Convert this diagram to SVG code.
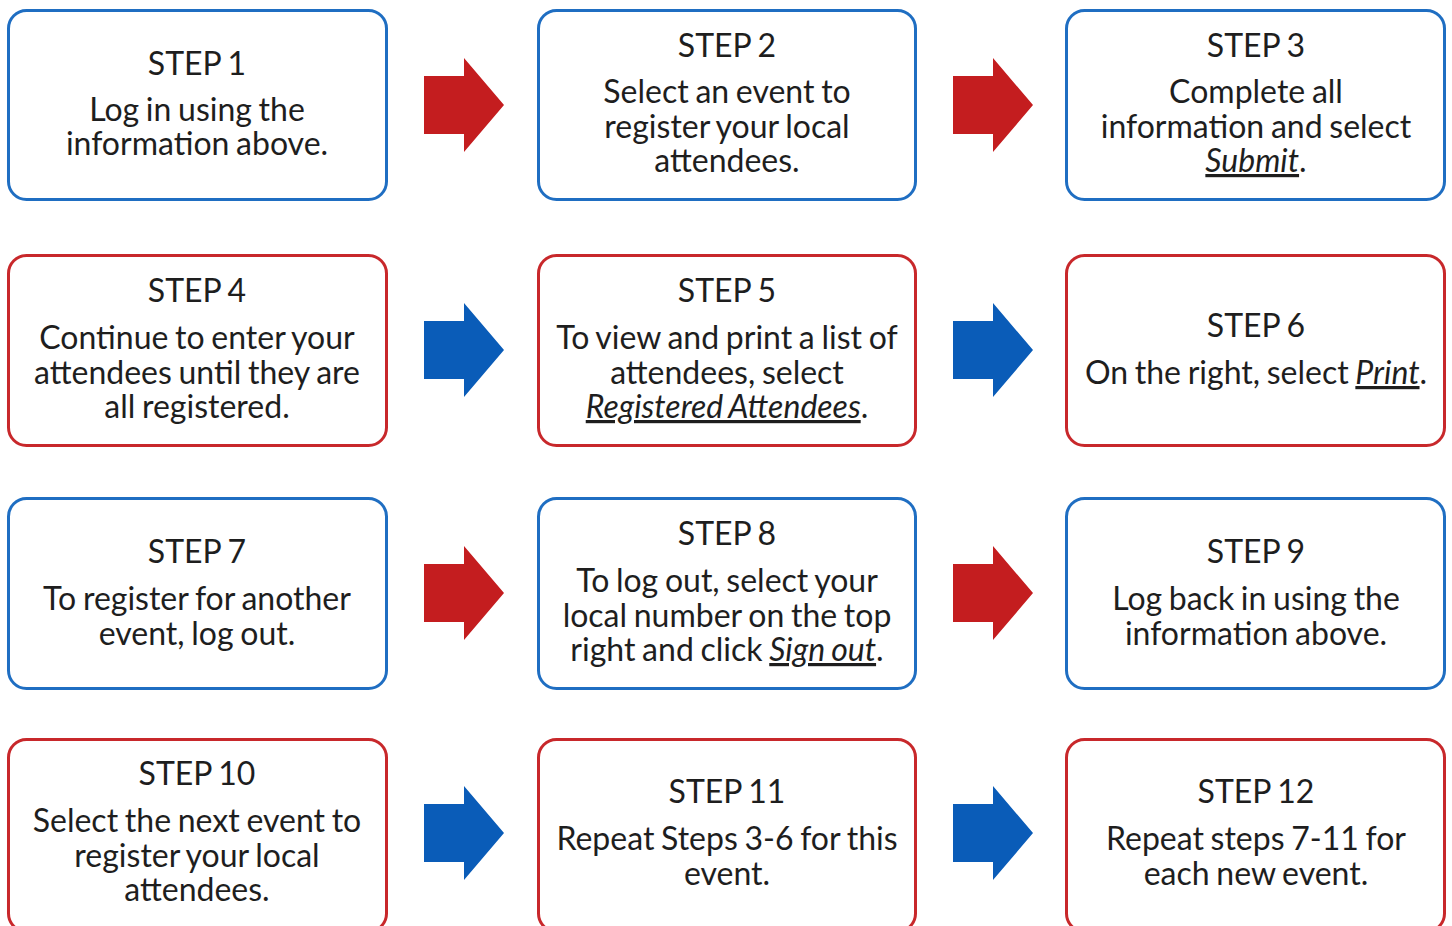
<svg xmlns="http://www.w3.org/2000/svg" width="1452" height="926" viewBox="0 0 1452 926">
<style>
.box{fill:#fff;stroke-width:3}
.b{stroke:#1f6ec2}
.r{stroke:#c8282b}
.ar{fill:#c41d1f}
.ab{fill:#0a5cb8}
text{font-family:Lato,"Open Sans","Liberation Sans",sans-serif;font-size:32px;word-spacing:-1.5px;fill:#1e1e1e;text-anchor:middle}
.u{font-style:italic;text-decoration:underline}
</style>
<defs>
<path id="arr" d="M0,-29 H40 V-47 L80,0 L40,47 V29 H0 Z"/>
</defs>
<rect width="1452" height="926" fill="#fff"/>
<g id="connectors">
<use href="#arr" class="ar" x="424" y="105"/>
<use href="#arr" class="ar" x="953" y="105"/>
<use href="#arr" class="ab" x="424" y="350"/>
<use href="#arr" class="ab" x="953" y="350"/>
<use href="#arr" class="ar" x="424" y="593"/>
<use href="#arr" class="ar" x="953" y="593"/>
<use href="#arr" class="ab" x="424" y="833"/>
<use href="#arr" class="ab" x="953" y="833"/>
</g>
<g id="step1"><rect class="box b" x="8.5" y="10.5" width="378" height="189" rx="18"/>
<text x="197" y="75">STEP 1</text><text x="197" y="121">Log in using the</text><text x="197" y="155">information above.</text></g>
<g id="step2"><rect class="box b" x="538.5" y="10.5" width="377" height="189" rx="18"/>
<text x="727" y="57">STEP 2</text><text x="727" y="103">Select an event to</text><text x="727" y="138">register your local</text><text x="727" y="172">attendees.</text></g>
<g id="step3"><rect class="box b" x="1066.5" y="10.5" width="378" height="189" rx="18"/>
<text x="1256" y="57">STEP 3</text><text x="1256" y="103">Complete all</text><text x="1256" y="138">information and select</text><text x="1256" y="172"><tspan class="u">Submit</tspan>.</text></g>
<g id="step4"><rect class="box r" x="8.5" y="255.5" width="378" height="190" rx="18"/>
<text x="197" y="302">STEP 4</text><text x="197" y="349">Continue to enter your</text><text x="197" y="384">attendees until they are</text><text x="197" y="418">all registered.</text></g>
<g id="step5"><rect class="box r" x="538.5" y="255.5" width="377" height="190" rx="18"/>
<text x="727" y="302">STEP 5</text><text x="727" y="349">To view and print a list of</text><text x="727" y="384">attendees, select</text><text x="727" y="418"><tspan class="u">Registered Attendees</tspan>.</text></g>
<g id="step6"><rect class="box r" x="1066.5" y="255.5" width="378" height="190" rx="18"/>
<text x="1256" y="337">STEP 6</text><text x="1256" y="384">On the right, select <tspan class="u">Print</tspan>.</text></g>
<g id="step7"><rect class="box b" x="8.5" y="498.5" width="378" height="190" rx="18"/>
<text x="197" y="563">STEP 7</text><text x="197" y="610">To register for another</text><text x="197" y="645">event, log out.</text></g>
<g id="step8"><rect class="box b" x="538.5" y="498.5" width="377" height="190" rx="18"/>
<text x="727" y="545">STEP 8</text><text x="727" y="592">To log out, select your</text><text x="727" y="627">local number on the top</text><text x="727" y="661">right and click <tspan class="u">Sign out</tspan>.</text></g>
<g id="step9"><rect class="box b" x="1066.5" y="498.5" width="378" height="190" rx="18"/>
<text x="1256" y="563">STEP 9</text><text x="1256" y="610">Log back in using the</text><text x="1256" y="645">information above.</text></g>
<g id="step10"><rect class="box r" x="8.5" y="739.5" width="378" height="192" rx="18"/>
<text x="197" y="785">STEP 10</text><text x="197" y="832">Select the next event to</text><text x="197" y="867">register your local</text><text x="197" y="901">attendees.</text></g>
<g id="step11"><rect class="box r" x="538.5" y="739.5" width="377" height="192" rx="18"/>
<text x="727" y="803">STEP 11</text><text x="727" y="850">Repeat Steps 3-6 for this</text><text x="727" y="885">event.</text></g>
<g id="step12"><rect class="box r" x="1066.5" y="739.5" width="378" height="192" rx="18"/>
<text x="1256" y="803">STEP 12</text><text x="1256" y="850">Repeat steps 7-11 for</text><text x="1256" y="885">each new event.</text></g>
</svg>
